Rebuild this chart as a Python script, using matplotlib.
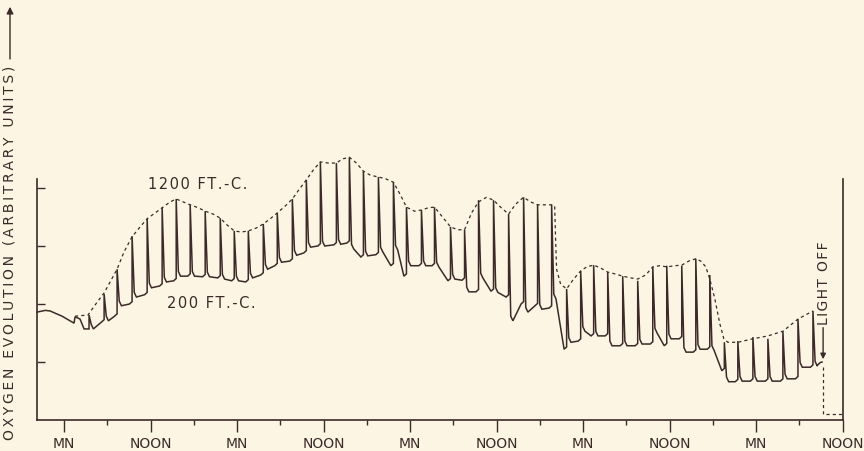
import matplotlib
matplotlib.use('Agg')
import matplotlib.pyplot as plt

# time in hours from the first midnight, oxygen in arbitrary units
lead_t = [-3.75, -2.6, -1.94, -0.28, 0.83, 1.39, 1.53, 2.22, 2.78]
lead_v = [1.86, 1.89, 1.88, 1.79, 1.71, 1.67, 1.78, 1.74, 1.57]

# one entry per 1200 ft-c flash: time, peak, level after fall, level before next flash
spike_t = [3.47, 5.56, 7.36, 9.44, 11.53, 13.61, 15.56, 17.5, 19.58, 21.67,
           23.61, 25.56, 27.64, 29.58, 31.67, 33.61, 35.56, 37.78, 39.58, 41.53,
           43.61, 45.69, 47.5, 49.58, 51.39, 53.61, 55.56, 57.5, 59.58, 61.67,
           63.75, 65.69, 67.64, 69.72, 71.67, 73.47, 75.42, 77.5, 79.58, 81.67,
           83.61, 85.69, 87.64, 89.58, 91.6, 93.47, 95.56, 97.64, 99.72, 101.81,
           103.89]
spike_top = [1.81, 2.17, 2.60, 3.17, 3.47, 3.66, 3.81, 3.71, 3.60, 3.48,
             3.26, 3.26, 3.38, 3.57, 3.81, 4.14, 4.45, 4.43, 4.53, 4.29,
             4.19, 4.10, 3.67, 3.62, 3.67, 3.33, 3.28, 3.79, 3.79, 3.55,
             3.84, 3.72, 3.71, 2.26, 2.57, 2.67, 2.55, 2.48, 2.40, 2.64,
             2.66, 2.66, 2.78, 2.50, 1.34, 1.36, 1.43, 1.40, 1.53, 1.74,
             1.88]
valley_start = [1.57, 1.71, 1.97, 2.12, 2.28, 2.38, 2.48, 2.48, 2.47, 2.43,
                2.40, 2.45, 2.60, 2.72, 2.84, 2.98, 3.00, 3.03, 2.95, 2.83,
                2.90, 2.93, 2.66, 2.66, 2.64, 2.43, 2.21, 2.45, 2.20, 1.71,
                1.86, 1.91, 2.09, 1.34, 1.53, 1.45, 1.28, 1.28, 1.31, 1.50,
                1.40, 1.17, 1.22, 1.20, 0.66, 0.67, 0.67, 0.67, 0.71, 0.91,
                0.93]
valley_end = [1.69, 1.79, 2.00, 2.16, 2.31, 2.40, 2.48, 2.47, 2.45, 2.40,
              2.38, 2.50, 2.66, 2.74, 2.88, 3.00, 3.02, 3.05, 2.81, 2.85,
              2.66, 2.48, 2.66, 2.66, 2.40, 2.41, 2.21, 2.22, 2.12, 2.00,
              1.97, 1.93, 1.22, 1.36, 1.45, 1.45, 1.28, 1.28, 1.31, 1.28,
              1.40, 1.17, 1.22, 0.85, 0.66, 0.67, 0.67, 0.67, 0.71, 0.91,
              0.95]
end_t = 104.9
tail_t = [105.15]
tail_v = [1.0]

# 1200 ft-c envelope (dashed)
env_t = [1.53, 3.33, 3.89, 4.58, 5.56, 6.39, 7.36, 8.33, 9.44, 10.56, 11.53,
         12.64, 13.61, 14.72, 15.56, 16.53, 17.5, 18.61, 19.58, 20.69, 21.67,
         22.64, 23.61, 24.58, 25.56, 26.67, 27.64, 28.61, 29.58, 30.69, 31.67,
         32.64, 33.61, 34.58, 35.56, 36.67, 37.78, 38.61, 39.58, 40.56, 41.53,
         42.5, 43.61, 44.58, 45.69, 46.67, 47.5, 48.61, 49.58, 50.56, 51.39,
         52.5, 53.61, 54.58, 55.56, 56.53, 57.5, 58.61, 59.58, 60.56, 61.67,
         62.64, 63.75, 64.72, 65.69, 66.67, 67.64, 68.06, 68.19, 68.33, 68.89,
         69.72, 70.69, 71.67, 72.5, 73.47, 74.44, 75.42, 76.39, 77.5, 78.61,
         79.58, 80.69, 81.67, 82.64, 83.61, 84.72, 85.69, 86.67, 87.64, 88.33,
         89.03, 89.58, 90.28, 90.97, 91.53, 92.08, 93.47, 95.56, 97.64, 99.72,
         101.81, 103.89]
env_v = [1.79, 1.81, 1.91, 2.03, 2.19, 2.38, 2.60, 2.90, 3.16, 3.33, 3.47,
         3.57, 3.66, 3.76, 3.81, 3.76, 3.71, 3.66, 3.60, 3.55, 3.48,
         3.36, 3.26, 3.24, 3.26, 3.31, 3.38, 3.47, 3.57, 3.69, 3.81,
         3.98, 4.14, 4.31, 4.45, 4.43, 4.43, 4.50, 4.53, 4.43, 4.29,
         4.22, 4.19, 4.16, 4.10, 3.88, 3.67, 3.60, 3.62, 3.66, 3.67,
         3.50, 3.33, 3.28, 3.28, 3.57, 3.76, 3.84, 3.79, 3.67, 3.55,
         3.72, 3.84, 3.76, 3.71, 3.71, 3.71, 3.69, 3.12, 2.60, 2.34,
         2.26, 2.43, 2.57, 2.64, 2.67, 2.62, 2.55, 2.52, 2.48, 2.45,
         2.43, 2.50, 2.64, 2.66, 2.64, 2.66, 2.67, 2.74, 2.78, 2.74,
         2.64, 2.43, 2.09, 1.66, 1.40, 1.34, 1.34, 1.40, 1.45, 1.53,
         1.74, 1.88]

# decay after light off
off_t = [105.28, 105.28, 108.06]
off_v = [0.91, 0.10, 0.10]

tick_pos = [0, 12, 24, 36, 48, 60, 72, 84, 96, 108]
tick_labels = ['MN', 'NOON'] * 5

ink = '#3b2a28'
paper = '#fcf5e3'


def spaced(s, gap='\u2009'):
    # old lettering is widely spaced
    return gap.join(s)


# build the recorder trace from the flash readings
xs = list(lead_t)
ys = list(lead_v)
for i, t in enumerate(spike_t):
    t_next = spike_t[i + 1] if i + 1 < len(spike_t) else end_t
    xs += [t, t, t + 0.3, t + 0.6, t_next - 0.35, t_next]
    ys += [ys[-1], spike_top[i], valley_start[i] + 0.08, valley_start[i],
           valley_end[i], valley_end[i] + 0.04]
xs += tail_t
ys += tail_v

fig = plt.figure(figsize=(8.64, 4.52), dpi=100, facecolor=paper)
ax = fig.add_axes([37 / 864, 31 / 452, 806 / 864, 241 / 452])
ax.set_facecolor(paper)

ax.plot(xs, ys, color=ink, lw=1.1, clip_on=False, solid_joinstyle='miter')
ax.plot(env_t, env_v, color=ink, lw=0.9, linestyle=(0, (2.5, 2.5)), clip_on=False)
ax.plot(off_t, off_v, color=ink, lw=0.9, linestyle=(0, (2.5, 2.5)), clip_on=False)

ax.set_xlim(-3.75, 108.06)
ax.set_ylim(0, 4.155)

for side in ['left', 'right', 'bottom']:
    ax.spines[side].set_color(ink)
    ax.spines[side].set_linewidth(1.2)
ax.spines['top'].set_visible(False)

ax.set_xticks(tick_pos)
ax.set_xticklabels(tick_labels)
ax.set_xticks(range(6, 108, 12), minor=True)
ax.tick_params(axis='x', which='major', direction='out', length=8.5, width=1,
               color=ink, labelcolor=ink, labelsize=10, pad=3)
ax.tick_params(axis='x', which='minor', direction='out', length=3.6, width=1, color=ink)
ax.set_yticks([1, 2, 3, 4])
ax.set_yticklabels([])
ax.tick_params(axis='y', direction='in', length=6, width=1, color=ink)

ax.text(18.6, 4.07, spaced('1200 FT.-C.', '\u200a'), color=ink, fontsize=10.5,
        ha='center', va='center')
ax.text(20.4, 2.03, spaced('200 FT.-C.', '\u200a'), color=ink, fontsize=10.5,
        ha='center', va='center')
ax.text(105.4, 1.66, spaced('LIGHT OFF', '\u200a'), color=ink, fontsize=10,
        rotation=90, ha='center', va='bottom')
ax.annotate('', xy=(105.3, 1.0), xytext=(105.3, 1.64),
            arrowprops=dict(arrowstyle='-|>', color=ink, lw=1, mutation_scale=8))

ylab = fig.text(10 / 864, 12 / 452, spaced('OXYGEN EVOLUTION (ARBITRARY UNITS)'),
                color=ink, fontsize=10, rotation=90, ha='center', va='bottom')
fig.canvas.draw()
bb = ylab.get_window_extent()
top_px = bb.y1 + 3
fig.add_artist(matplotlib.patches.FancyArrowPatch(
    (10 / 864, top_px / 452), (10 / 864, 447 / 452), transform=fig.transFigure,
    arrowstyle='-|>', mutation_scale=10, color=ink, lw=1))

fig.savefig('out.png', dpi=100, facecolor=paper)
